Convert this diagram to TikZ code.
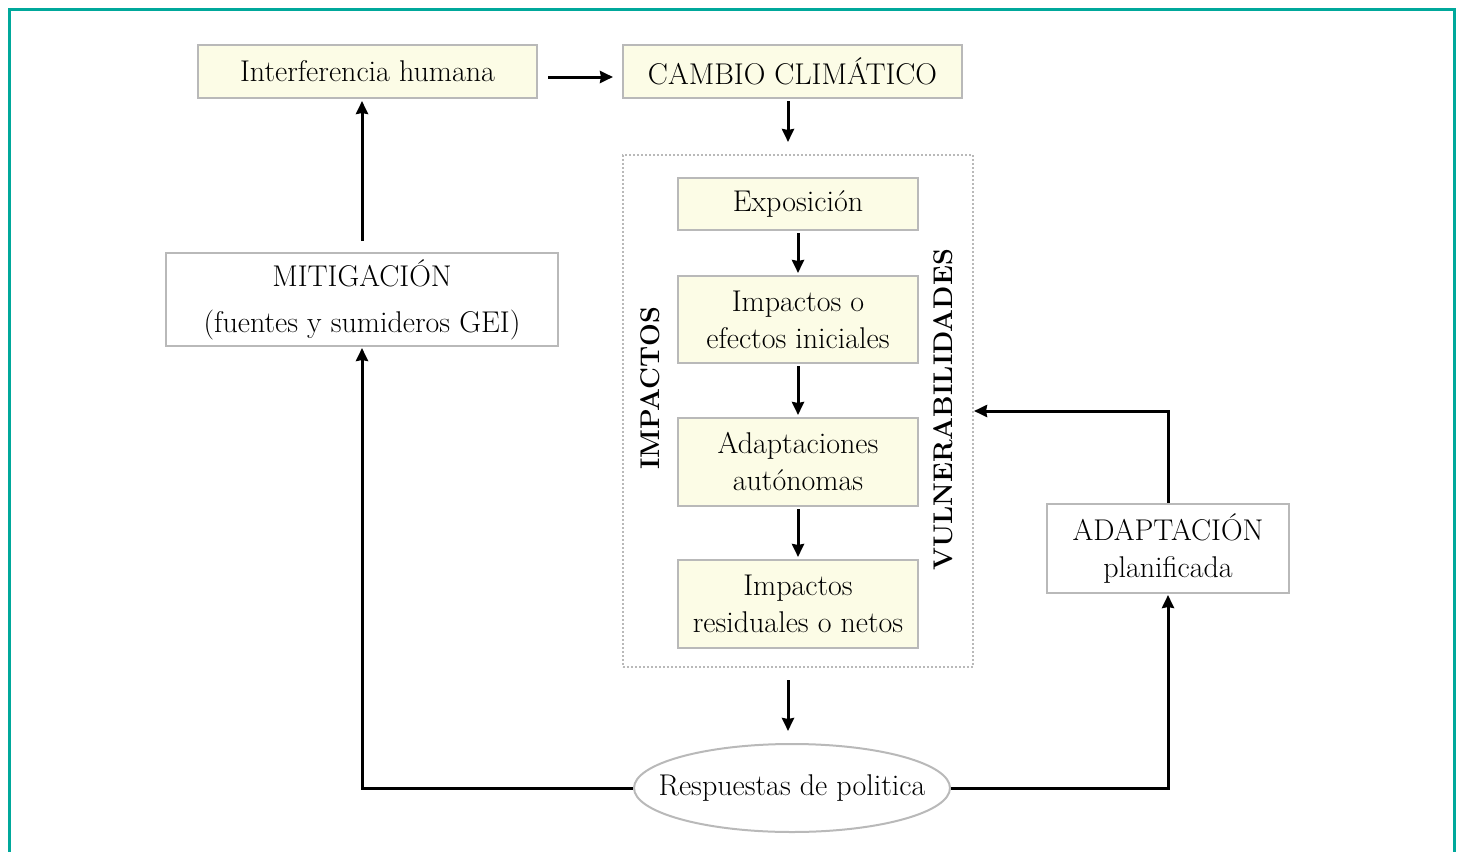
\documentclass[tikz,border=0pt]{standalone}
\usetikzlibrary{arrows.meta,shapes.geometric}
\definecolor{frameteal}{RGB}{0,168,155}
\definecolor{boxfill}{RGB}{252,252,230}
\definecolor{boxline}{RGB}{185,185,185}
\tikzset{
  x=1pt,y=-1pt,
  ybox/.style={draw=boxline,line width=2pt,fill=boxfill,inner sep=0pt,align=center,font=\fontsize{30}{37}\selectfont},
  wbox/.style={draw=boxline,line width=2pt,fill=white,inner sep=0pt,align=center,font=\fontsize{30}{37}\selectfont},
  arr/.style={line width=3pt,-{Stealth[length=13pt,width=12pt,inset=1pt]}},
  lbl/.style={font=\fontsize{27}{30}\selectfont\bfseries,rotate=90,inner sep=0pt}
}
\begin{document}
\begin{tikzpicture}
\useasboundingbox (0,0) rectangle (1461,851);
\draw[frameteal,line width=3pt] (9.5,853) -- (9.5,9.5) -- (1454,9.5) -- (1454,853);
% top boxes
\node[ybox,minimum width=339pt,minimum height=53pt] (inter) at (367.5,71.5) {Interferencia humana};
\node[ybox,minimum width=339pt,minimum height=53pt] (cambio) at (792.5,71.5) {CAMBIO CLIMÁTICO};
% dotted container
\node[draw=boxline,line width=2pt,dotted,minimum width=350pt,minimum height=512pt,inner sep=0pt] (cont) at (798,411) {};
\node[ybox,minimum width=240pt,minimum height=52pt] (expo) at (798,204) {Exposición};
\node[ybox,minimum width=240pt,minimum height=87pt] (imp1) at (798,319.5) {Impactos o\\efectos iniciales};
\node[ybox,minimum width=240pt,minimum height=88pt] (adap) at (798,462) {Adaptaciones\\autónomas};
\node[ybox,minimum width=240pt,minimum height=88pt] (imp2) at (798,604) {Impactos\\residuales o netos};
\node[lbl] (limp) at (650,388) {IMPACTOS};
\node[lbl] (lvul) at (943,410) {VULNERABILIDADES};
% side boxes
\node[wbox,minimum width=392pt,minimum height=93pt] (miti) at (362,299.5) {MITIGACIÓN\\[9pt](fuentes y sumideros GEI)};
\node[wbox,minimum width=242pt,minimum height=89pt] (adpl) at (1168,548.5) {ADAPTACIÓN\\planificada};
\node[draw=boxline,line width=2pt,ellipse,fill=white,minimum width=316pt,minimum height=88pt,inner xsep=-40pt,inner ysep=0pt,font=\fontsize{30}{36}\selectfont] (resp) at (792,788) {Respuestas de politica};
% arrows
\coordinate (a1s) at (548,77);
\coordinate (a1e) at (613,77);
\draw[arr] (a1s) -- (a1e);
\draw[arr,shorten <=2pt,shorten >=12pt] (cambio.south -| 788,0) -- (cont.north -| 788,0);
\draw[arr,shorten <=2pt,shorten >=2pt] (expo) -- (imp1);
\draw[arr,shorten <=2pt,shorten >=2pt] (imp1) -- (adap);
\draw[arr,shorten <=2pt,shorten >=2pt] (adap) -- (imp2);
\draw[arr,shorten <=12pt,shorten >=12pt] (cont.south -| 788,0) -- (resp.north -| 788,0);
\draw[arr,shorten <=11pt,shorten >=2pt] (miti.north) -- (inter.south -| miti.north);
\draw[arr,shorten >=1pt] (resp.west) -| (miti.south);
\draw[arr,shorten >=1pt] (resp.east) -| (adpl.south);
\draw[arr,shorten >=0pt] (adpl.north) |- (cont.east |- 0,411);
\end{tikzpicture}
\end{document}
